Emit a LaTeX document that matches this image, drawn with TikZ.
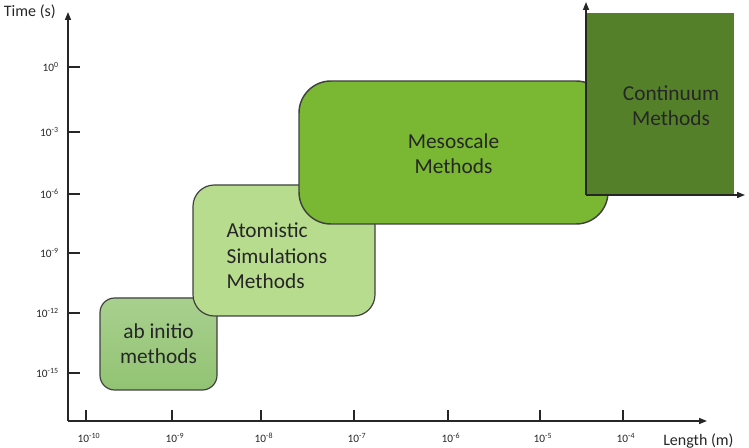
\documentclass[tikz,border=0pt]{standalone}
\usepackage{fontspec}
\setmainfont{Carlito}
\usetikzlibrary{arrows.meta}

\definecolor{abinit}{HTML}{A8D08E}
\definecolor{abinitdark}{HTML}{92C373}
\definecolor{atomgreen}{HTML}{B8DC8D}
\definecolor{mesogreen}{HTML}{7AB833}
\definecolor{contgreen}{HTML}{55802A}
\definecolor{edgegrey}{HTML}{404040}
\definecolor{axisgrey}{HTML}{262626}

\tikzset{
  axis/.style={line width=1.1pt, draw=axisgrey, -{Triangle[length=6pt,width=4.5pt]}},
  axistick/.style={line width=1.1pt, draw=axisgrey},
  ticklabel/.style={font=\fontsize{8.5}{10}\selectfont, text=axisgrey, inner sep=0pt},
  axislabel/.style={font=\fontsize{12}{14}\selectfont, text=axisgrey, inner sep=0pt},
  methodbox/.style={draw=edgegrey, line width=0.9pt, rounded corners=#1},
  methodtext/.style={font=\fontsize{16}{19}\selectfont, text=black!85, align=center, inner sep=0pt},
}

\begin{document}
\begin{tikzpicture}[x=0.75pt,y=-0.75pt]
    \useasboundingbox (0,0) rectangle (749,448);

    % Axes
    \coordinate (origin) at (68,421);
    \coordinate (tend) at (68,12);
    \coordinate (lend) at (707,421);
    \draw[axis] (origin) -- (tend);
    \draw[axis] (origin) -- (lend);
    \node[axislabel, anchor=east] (tlabel) at (56,12) {Time (s)};
    \node[axislabel, anchor=west] (llabel) at (663,441) {Length (m)};

    % Graduations longueur
    \foreach \x/\e [count=\i] in {86/-10,172/-9,261/-8,354/-7,448/-6,540/-5,623/-4} {
        \draw[axistick] (\x,421) -- (\x,410);
        \node[ticklabel] (xt\i) at (\x+3,438) {10\textsuperscript{\e}};
    }

    % Graduations temps
    \foreach \y/\e [count=\i] in {67/0,132/-3,194/-6,253/-9,313/-12,373/-15} {
        \draw[axistick] (68,\y) -- (80,\y);
        \node[ticklabel, anchor=east] (yt\i) at (59,\y) {10\textsuperscript{\e}};
    }

    % ab initio
    \draw[methodbox=11pt, top color=abinit, bottom color=abinitdark] (100,298) rectangle (217,390);
    \node[methodtext] (abtext) at (158.5,344) {ab initio\\methods};

    % Atomistic
    \draw[methodbox=16pt, fill=atomgreen] (193,185) rectangle (375,316);
    \node[methodtext, align=left] (attext) at (277,256) {Atomistic\\Simulations\\Methods};

    % Mesoscale
    \draw[methodbox=24pt, fill=mesogreen, line width=1.1pt] (299,81) rectangle (608,224);
    \node[methodtext] (mesotext) at (453.5,154) {Mesoscale\\Methods};

    % Continuum
    \fill[contgreen] (587,13) rectangle (734,195);
    \coordinate (ccorner) at (586,195);
    \coordinate (ctop) at (586,2);
    \coordinate (cright) at (745,195);
    \draw[axis] (ccorner) -- (ctop);
    \draw[axis] (ccorner) -- (cright);
    \node[methodtext] (conttext) at (671,106) {Continuum\\Methods};
\end{tikzpicture}
\end{document}
